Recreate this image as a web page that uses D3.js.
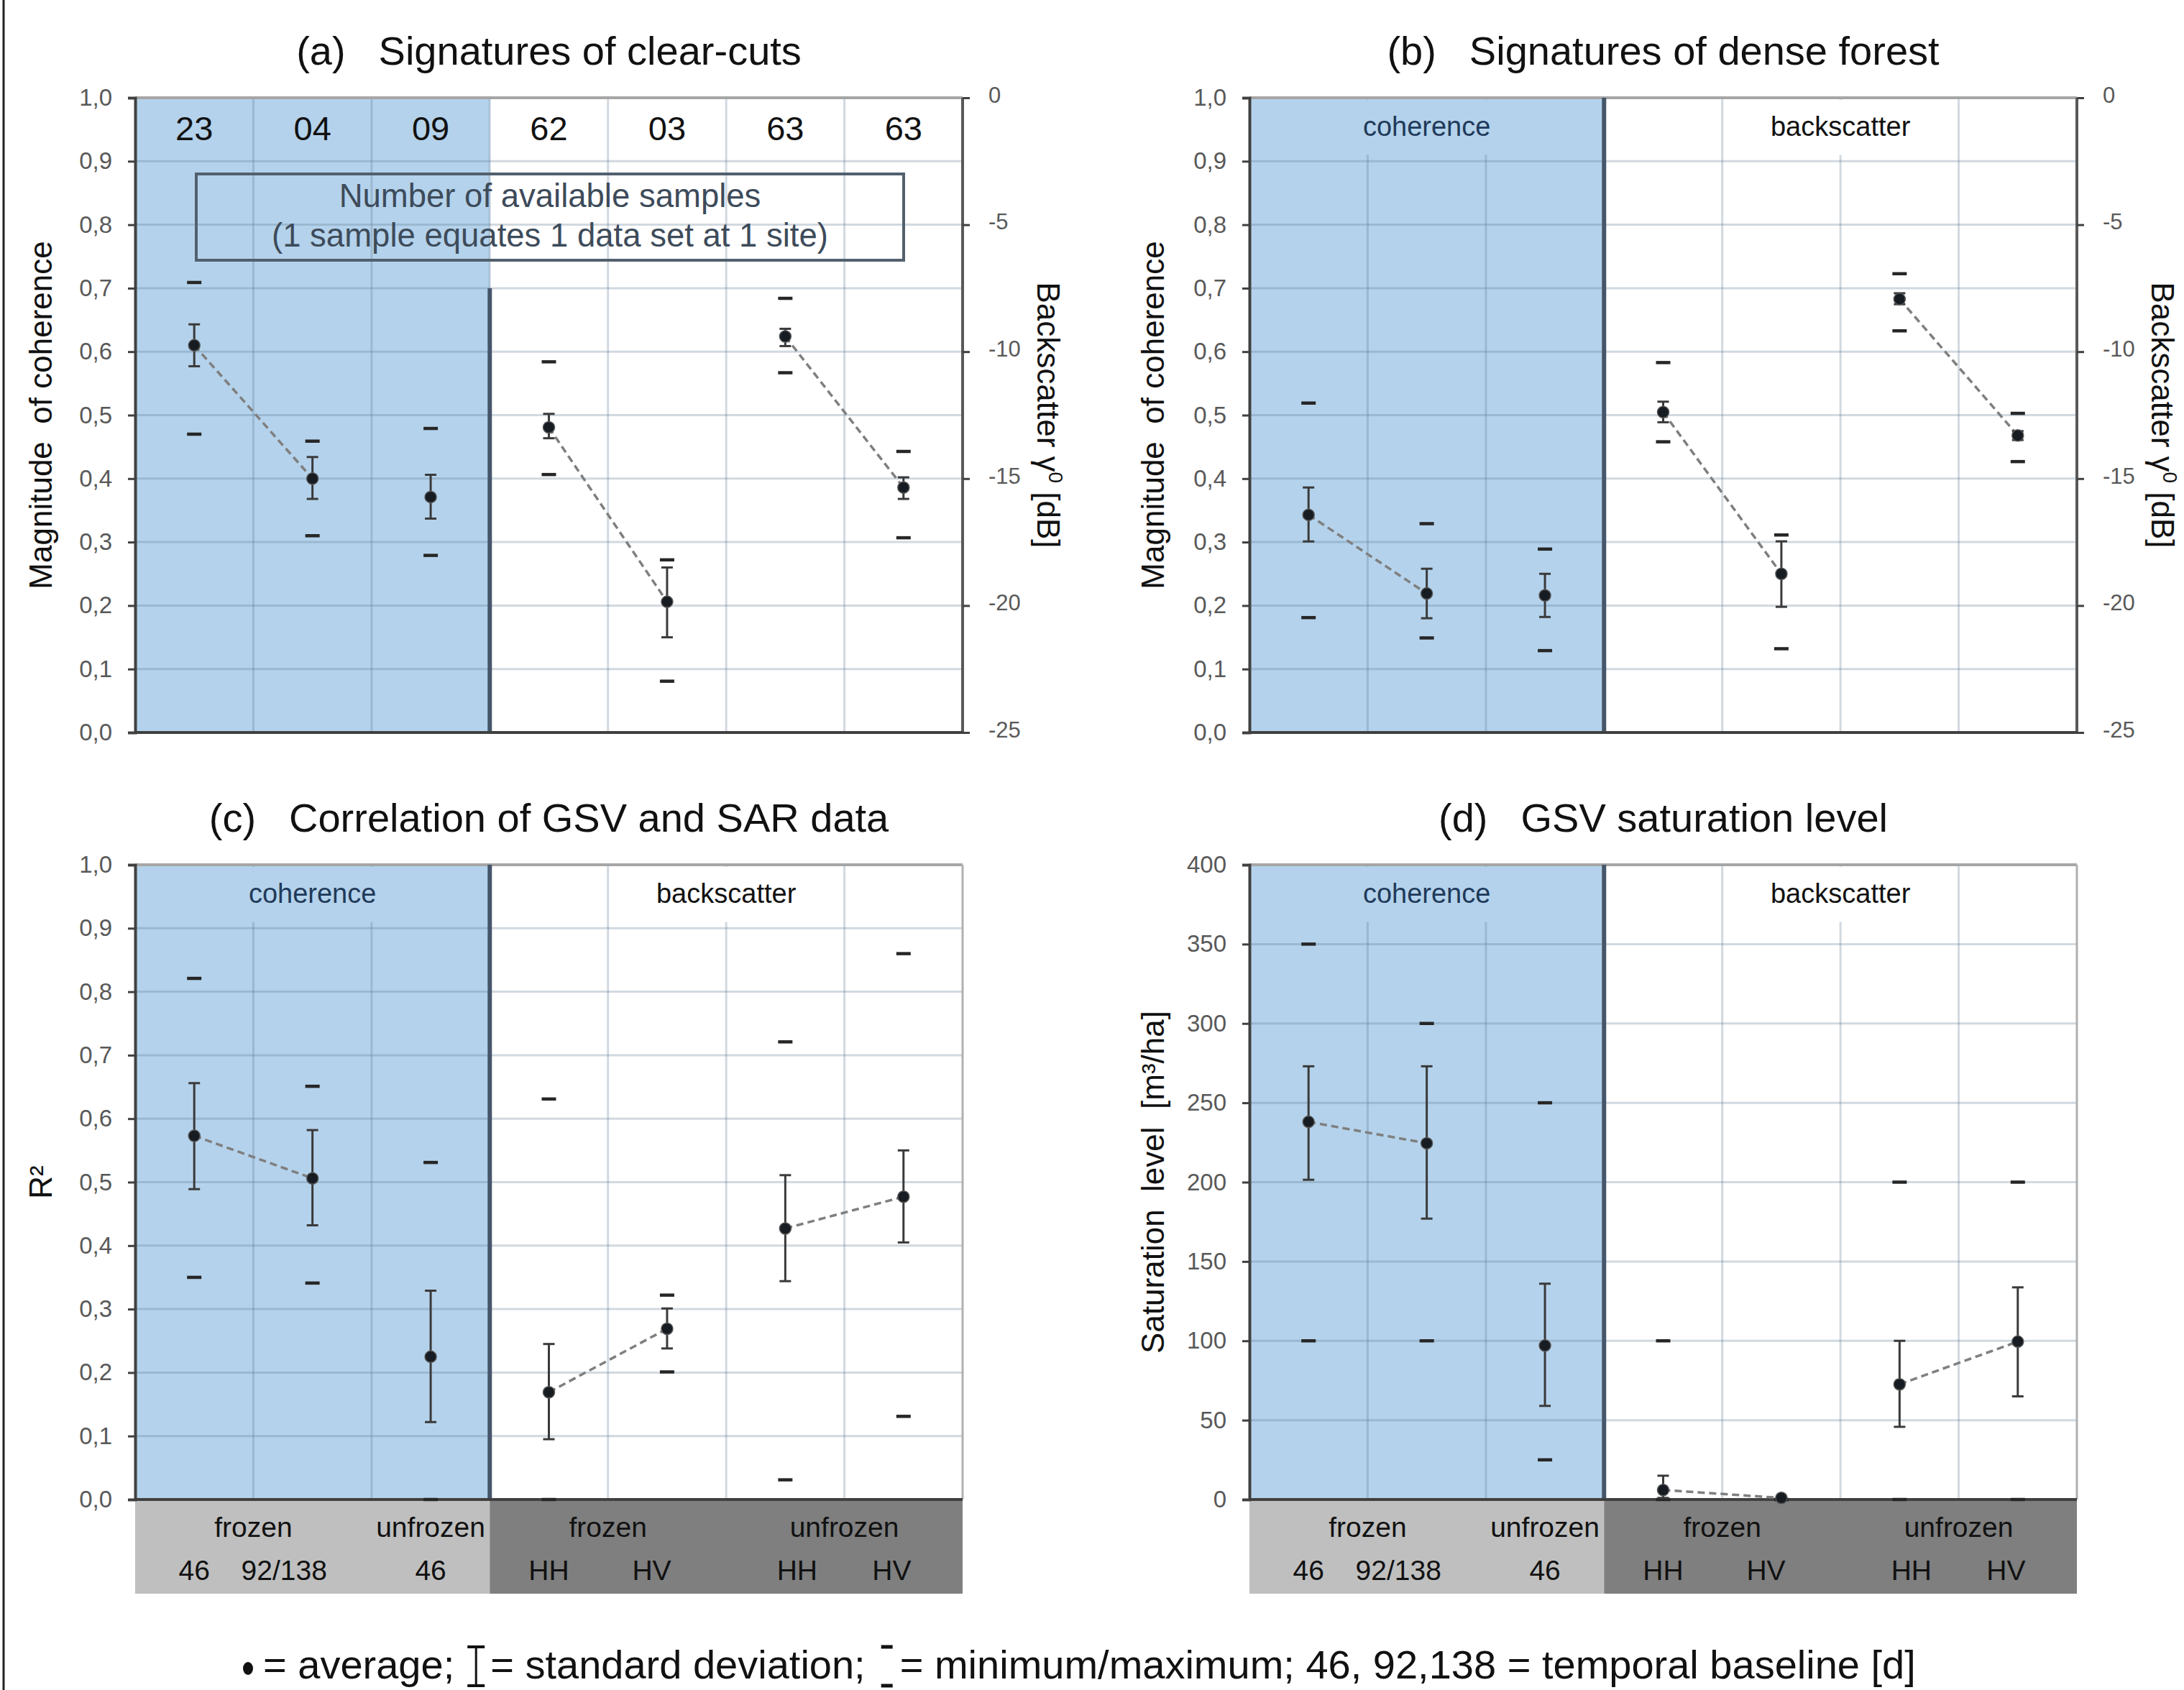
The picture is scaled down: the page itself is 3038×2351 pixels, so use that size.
<!DOCTYPE html>
<html>
<head>
<meta charset="utf-8">
<script src="https://cdn.jsdelivr.net/npm/d3@7"></script>
<style>
  body { margin: 0; background: #fff; }
  svg { display: block; font-family: "Liberation Sans", Arial, sans-serif; }
  .narrow { font-family: "Liberation Sans Narrow", "Arial Narrow", "Liberation Sans", sans-serif; }
</style>
</head>
<body>
<svg id="fig" width="3038" height="2351"></svg>
<script>
// ---------- data ----------
const columns = d3.range(7);
const linkedPairs = [[0, 1], [3, 4], [5, 6]];

const samplesA = ['23', '04', '09', '62', '03', '63', '63'];
const headerLabels = ['coherence', 'backscatter'];
const stateLabels = ['frozen', 'unfrozen', 'frozen', 'unfrozen'];
const baselineLabels = ['46', '92/138', '46', 'HH', 'HV', 'HH', 'HV'];

const coherenceTicks = d3.range(11).map(i => i / 10);
const backscatterTicks = [0, -5, -10, -15, -20, -25];
const saturationTicks = d3.range(0, 401, 50);

// (a) clear-cuts: columns 0-2 coherence, columns 3-6 backscatter in dB
const aMean = [0.610, 0.400, 0.371, -12.98, -19.85, -9.40, -15.35];
const aSdLo = [0.577, 0.368, 0.337, -13.41, -21.25, -9.78, -15.80];
const aSdHi = [0.643, 0.434, 0.406, -12.45, -18.50, -9.10, -14.95];
const aMin  = [0.470, 0.310, 0.279, -14.84, -22.98, -10.83, -17.33];
const aMax  = [0.709, 0.459, 0.479, -10.40, -18.20, -7.90, -13.93];

// (b) dense forest
const bMean = [0.343, 0.219, 0.216, -12.38, -18.75, -7.93, -13.30];
const bSdLo = [0.301, 0.180, 0.182, -12.78, -20.05, -8.13, -13.48];
const bSdHi = [0.386, 0.258, 0.250, -11.97, -17.47, -7.70, -13.13];
const bMin  = [0.181, 0.149, 0.129, -13.55, -21.70, -9.18, -14.33];
const bMax  = [0.519, 0.329, 0.289, -10.43, -17.22, -6.93, -12.43];

// (c) R² of GSV vs SAR
const cMean = [0.573, 0.506, 0.225, 0.169, 0.269, 0.427, 0.477];
const cSdLo = [0.489, 0.432, 0.122, 0.095, 0.238, 0.344, 0.405];
const cSdHi = [0.656, 0.582, 0.329, 0.245, 0.301, 0.511, 0.550];
const cMin  = [0.350, 0.341, 0.000, 0.000, 0.201, 0.031, 0.131];
const cMax  = [0.821, 0.651, 0.531, 0.631, 0.322, 0.721, 0.860];

// (d) GSV saturation level [m³/ha]
const dMean = [238, 224.5, 97, 6, 1, 72.6, 99.5];
const dSdLo = [201.5, 177, 59, 1, 0, 45.8, 65];
const dSdHi = [273, 273, 136, 15, 2, 100, 133.7];
const dMin  = [100, 100, 25, 0, 0, 0, 0];
const dMax  = [350, 300, 250, 100, 0, 200, 200];

// ---------- layout ----------
const W = 1151, H = 883;
const BLUE = '#b4d2eb';
const DARK = '#404040';
const svg = d3.select('#fig');

const commaFmt = d => d3.format('.1f')(d).replace('.', ',');

// left frame line of the figure
svg.append('line').attr('x1', 5).attr('x2', 5).attr('y1', 0).attr('y2', 2351)
  .attr('stroke', '#222').attr('stroke-width', 3);

const drawPanel = (p) => {
  const g = svg.append('g').attr('transform', `translate(${p.left},${p.top})`);

  const x = d3.scaleBand().domain(columns).range([0, W]);
  const cx = i => x(i) + x.bandwidth() / 2;
  const y = d3.scaleLinear().domain(p.yDomain).range([H, 0]);
  const y2 = d3.scaleLinear().domain([-25, 0]).range([H, 0]);
  const yOf = i => (p.rightAxis && i >= 3) ? y2 : y;

  // coherence background
  g.append('rect').attr('x', 0).attr('y', 0)
    .attr('width', x(3)).attr('height', H).attr('fill', BLUE);

  // grid
  g.append('g').selectAll('line').data(p.yTicks.slice(1, -1)).join('line')
    .attr('x1', 0).attr('x2', W).attr('y1', d => y(d)).attr('y2', d => y(d))
    .attr('stroke', '#5b7590').attr('stroke-opacity', 0.28).attr('stroke-width', 3);
  g.append('g').selectAll('line').data(columns.slice(1)).join('line')
    .attr('x1', d => x(d)).attr('x2', d => x(d)).attr('y1', 0).attr('y2', H)
    .attr('stroke', '#5b7590').attr('stroke-opacity', 0.28).attr('stroke-width', 3);

  // header row
  if (p.samples) {
    g.append('g').selectAll('text').data(p.samples).join('text')
      .attr('class', 'narrow')
      .attr('x', (d, i) => cx(i)).attr('y', 59)
      .attr('text-anchor', 'middle').attr('font-size', 47).attr('fill', '#111')
      .text(d => d);
  } else {
    const hy = H * 0.09;
    const boxes = [[x(0) + 10, x(3) - 10, BLUE], [x(4) + 8, x(6) - 8, '#fff']];
    boxes.forEach((b, i) => {
      g.append('rect').attr('x', b[0]).attr('y', 3).attr('width', b[1] - b[0])
        .attr('height', hy - 3).attr('fill', b[2]);
      g.append('text').attr('class', 'narrow')
        .attr('x', (b[0] + b[1]) / 2).attr('y', 53)
        .attr('text-anchor', 'middle').attr('font-size', 38)
        .attr('fill', i === 0 ? '#1f3a5a' : '#111')
        .text(headerLabels[i]);
    });
  }

  // borders
  g.append('line').attr('x1', 0).attr('x2', W).attr('y1', 0).attr('y2', 0)
    .attr('stroke', '#a6a6a6').attr('stroke-width', 4);
  g.append('line').attr('x1', W).attr('x2', W).attr('y1', 0).attr('y2', H)
    .attr('stroke', p.rightAxis ? '#595959' : '#b0b0b0').attr('stroke-width', p.rightAxis ? 4 : 3);

  // divider between coherence and backscatter
  g.append('line').attr('x1', x(3)).attr('x2', x(3))
    .attr('y1', y(p.dividerFrom)).attr('y2', H)
    .attr('stroke', '#46566a').attr('stroke-width', 6);

  // bottom band (c, d)
  if (p.band) {
    const bandH = 131;
    g.append('rect').attr('x', 0).attr('y', H).attr('width', x(3)).attr('height', bandH).attr('fill', '#bfbfbf');
    g.append('rect').attr('x', x(3)).attr('y', H).attr('width', W - x(3)).attr('height', bandH).attr('fill', '#7f7f7f');
    const statePos = [0.5, 2, 3.5, 5.5];
    g.append('g').selectAll('text').data(stateLabels).join('text')
      .attr('class', 'narrow')
      .attr('x', (d, i) => x(0) + (statePos[i] + 0.5) * x.bandwidth())
      .attr('y', H + 52).attr('text-anchor', 'middle').attr('font-size', 39).attr('fill', '#111')
      .text(d => d);
    const baseShift = [0, -0.24, 0, 0, -0.13, 0.1, -0.1];
    g.append('g').selectAll('text').data(baselineLabels).join('text')
      .attr('class', 'narrow')
      .attr('x', (d, i) => cx(i) + baseShift[i] * x.bandwidth())
      .attr('y', H + 112).attr('text-anchor', 'middle').attr('font-size', 39).attr('fill', '#111')
      .text(d => d);
  }

  // left axis
  const la = g.append('g').call(d3.axisLeft(y).tickValues(p.yTicks).tickSize(10).tickPadding(22).tickFormat(p.fmt));
  la.select('.domain').attr('stroke', DARK).attr('stroke-width', 4);
  la.selectAll('.tick line').attr('stroke', DARK).attr('stroke-width', 3);
  la.selectAll('.tick text').attr('class', 'narrow').attr('font-size', 33).attr('fill', '#595959');

  // bottom axis line
  g.append('line').attr('x1', 0).attr('x2', W).attr('y1', H).attr('y2', H)
    .attr('stroke', DARK).attr('stroke-width', 4);

  // right axis (backscatter)
  if (p.rightAxis) {
    const ra = g.append('g').attr('transform', `translate(${W},0)`)
      .call(d3.axisRight(y2).tickValues(backscatterTicks).tickSize(10).tickPadding(26).tickFormat(d3.format('d')));
    ra.select('.domain').remove();
    ra.selectAll('.tick line').attr('stroke', DARK).attr('stroke-width', 3);
    ra.selectAll('.tick text').attr('font-size', 31).attr('fill', '#595959').attr('dy', '0.2em')
      .text(d => d === 0 ? '0' : String(d).replace('−', '-'));
    g.append('text').attr('class', 'narrow')
      .attr('transform', `translate(${W + 104},${H / 2}) rotate(90)`)
      .attr('text-anchor', 'middle').attr('font-size', 44).attr('fill', '#111')
      .call(t => {
        t.append('tspan').text('Backscatter γ');
        t.append('tspan').attr('font-size', 28).attr('dy', -16).text('0');
        t.append('tspan').attr('dy', 16).text(' [dB]');
      });
  }

  // y title
  g.append('text')
    .attr('transform', `translate(${p.yTitleX},${H / 2}) rotate(-90)`)
    .attr('text-anchor', 'middle').attr('font-size', 44).attr('fill', '#111')
    .attr('xml:space', 'preserve')
    .text(p.yTitle);

  // title
  g.append('text').attr('class', 'narrow')
    .attr('x', W / 2).attr('y', -46).attr('text-anchor', 'middle')
    .attr('font-size', 56).attr('fill', '#111')
    .call(t => {
      t.append('tspan').text(p.tag);
      t.append('tspan').attr('dx', 46).text(p.title);
    });

  // sample box (a)
  if (p.samples) {
    g.append('rect').attr('x', 85).attr('y', 106).attr('width', 984).attr('height', 120)
      .attr('fill', 'none').attr('stroke', '#52606e').attr('stroke-width', 4);
    g.append('text').attr('x', 577).attr('y', 152).attr('text-anchor', 'middle')
      .attr('font-size', 45.5).attr('fill', '#3d4b5a')
      .text('Number of available samples');
    g.append('text').attr('x', 577).attr('y', 207).attr('text-anchor', 'middle')
      .attr('font-size', 45.5).attr('fill', '#3d4b5a')
      .text('(1 sample equates 1 data set at 1 site)');
  }

  // connecting dashed lines
  g.append('g').selectAll('line').data(linkedPairs).join('line')
    .attr('x1', d => cx(d[0])).attr('y1', d => yOf(d[0])(p.mean[d[0]]))
    .attr('x2', d => cx(d[1])).attr('y2', d => yOf(d[1])(p.mean[d[1]]))
    .attr('stroke', '#7f7f7f').attr('stroke-width', 3.5).attr('stroke-dasharray', '10,6');

  // min / max marks
  const mm = g.append('g').attr('stroke', '#262626').attr('stroke-width', 4.5);
  [p.min, p.max].forEach(vals => {
    mm.selectAll(null).data(columns).join('line')
      .attr('x1', i => cx(i) - 10).attr('x2', i => cx(i) + 10)
      .attr('y1', i => yOf(i)(vals[i])).attr('y2', i => yOf(i)(vals[i]));
  });

  // standard deviation bars
  const sd = g.append('g').attr('stroke', '#3a3a3a').attr('stroke-width', 3);
  sd.selectAll(null).data(columns).join('line')
    .attr('x1', cx).attr('x2', cx)
    .attr('y1', i => yOf(i)(p.sdLo[i])).attr('y2', i => yOf(i)(p.sdHi[i]));
  [p.sdLo, p.sdHi].forEach(vals => {
    sd.selectAll(null).data(columns).join('line')
      .attr('x1', i => cx(i) - 8).attr('x2', i => cx(i) + 8)
      .attr('y1', i => yOf(i)(vals[i])).attr('y2', i => yOf(i)(vals[i]));
  });

  // averages
  g.append('g').selectAll('circle').data(columns).join('circle')
    .attr('cx', cx).attr('cy', i => yOf(i)(p.mean[i])).attr('r', 8)
    .attr('fill', '#161c22').attr('stroke', '#555').attr('stroke-width', 1.5);
};

drawPanel({
  left: 188, top: 136, tag: '(a)', title: 'Signatures of clear-cuts',
  yDomain: [0, 1], yTicks: coherenceTicks, fmt: commaFmt, rightAxis: true,
  dividerFrom: 0.7, samples: samplesA, band: false,
  yTitle: 'Magnitude  of coherence', yTitleX: -116,
  mean: aMean, sdLo: aSdLo, sdHi: aSdHi, min: aMin, max: aMax
});
drawPanel({
  left: 1738, top: 136, tag: '(b)', title: 'Signatures of dense forest',
  yDomain: [0, 1], yTicks: coherenceTicks, fmt: commaFmt, rightAxis: true,
  dividerFrom: 1, samples: null, band: false,
  yTitle: 'Magnitude  of coherence', yTitleX: -119,
  mean: bMean, sdLo: bSdLo, sdHi: bSdHi, min: bMin, max: bMax
});
drawPanel({
  left: 188, top: 1203, tag: '(c)', title: 'Correlation of GSV and SAR data',
  yDomain: [0, 1], yTicks: coherenceTicks, fmt: commaFmt, rightAxis: false,
  dividerFrom: 1, samples: null, band: true,
  yTitle: 'R²', yTitleX: -116,
  mean: cMean, sdLo: cSdLo, sdHi: cSdHi, min: cMin, max: cMax
});
drawPanel({
  left: 1738, top: 1203, tag: '(d)', title: 'GSV saturation level',
  yDomain: [0, 400], yTicks: saturationTicks, fmt: d3.format('d'), rightAxis: false,
  dividerFrom: 400, samples: null, band: true,
  yTitle: 'Saturation  level  [m³/ha]', yTitleX: -119,
  mean: dMean, sdLo: dSdLo, sdHi: dSdHi, min: dMin, max: dMax
});

// ---------- footer legend ----------
const foot = svg.append('g').attr('class', 'narrow');
const fy = 2335, fs = 56;
let fx = 338;
foot.append('ellipse').attr('cx', fx + 7).attr('cy', fy - 14).attr('rx', 7).attr('ry', 9).attr('fill', '#111');
fx += 28;
const addText = (s) => {
  const t = foot.append('text').attr('x', fx).attr('y', fy).attr('font-size', fs).attr('fill', '#111')
    .attr('xml:space', 'preserve').text(s);
  fx += t.node().getComputedTextLength();
};
addText('= average;');
fx += 18;
// I-beam symbol
const ib = foot.append('g').attr('stroke', '#111').attr('stroke-width', 3);
ib.append('line').attr('x1', fx + 12).attr('x2', fx + 12).attr('y1', fy - 44).attr('y2', fy + 10);
ib.append('line').attr('x1', fx).attr('x2', fx + 24).attr('y1', fy - 44).attr('y2', fy - 44).attr('stroke-width', 4);
ib.append('line').attr('x1', fx).attr('x2', fx + 24).attr('y1', fy + 10).attr('y2', fy + 10).attr('stroke-width', 4);
fx += 32;
addText('= standard deviation;');
fx += 22;
const mmk = foot.append('g').attr('stroke', '#111').attr('stroke-width', 5);
mmk.append('line').attr('x1', fx).attr('x2', fx + 16).attr('y1', fy - 44).attr('y2', fy - 44);
mmk.append('line').attr('x1', fx).attr('x2', fx + 16).attr('y1', fy + 10).attr('y2', fy + 10);
fx += 26;
addText('= minimum/maximum; 46, 92,138 = temporal baseline [d]');
</script>
</body>
</html>
